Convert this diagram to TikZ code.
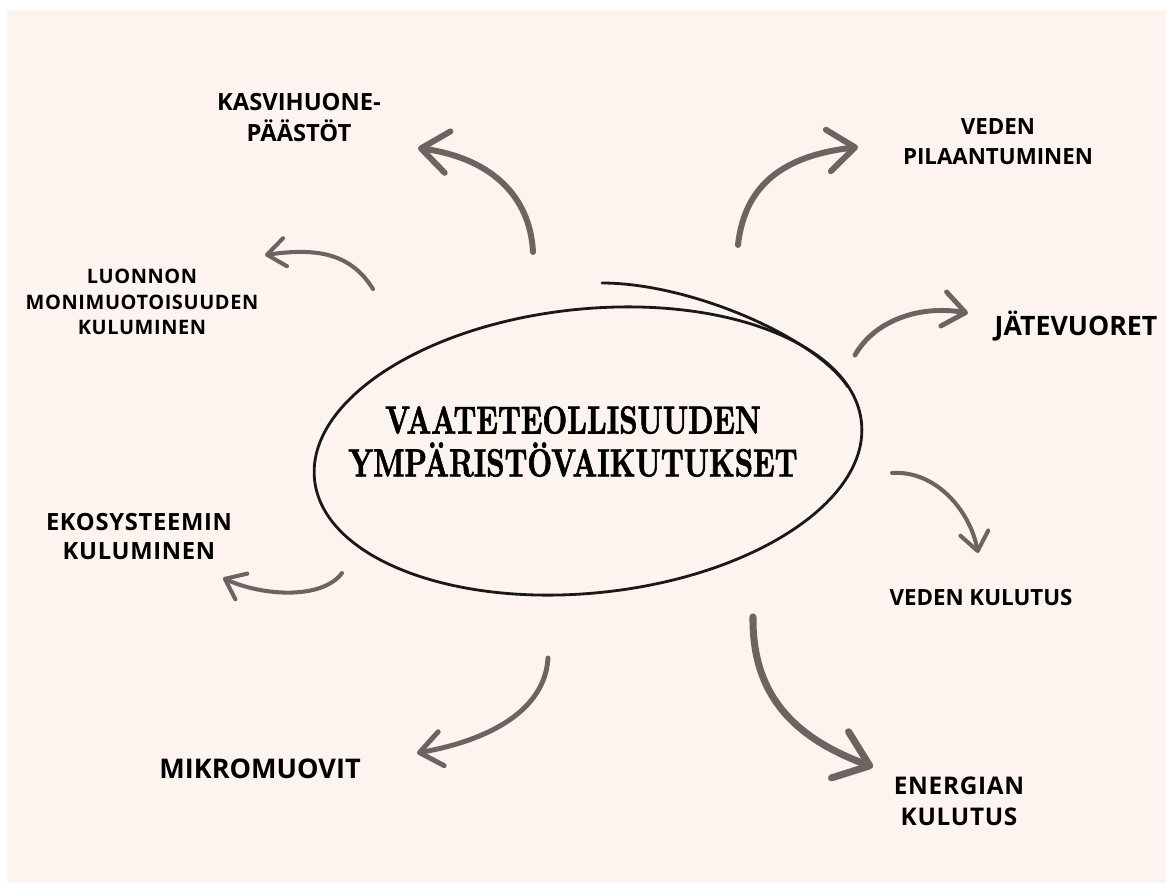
\documentclass[tikz,border=0pt]{standalone}
\usepackage{fontspec}
\usetikzlibrary{arrows.meta,shapes.geometric}
\newfontfamily\labfont{Open Sans}
\newfontfamily\spacedfont[LetterSpace=3]{Open Sans}
\newfontfamily\titlefont{lmroman10-bold.otf}[FakeBold=1.5, FakeStretch=0.73]
\definecolor{bgpink}{HTML}{FDF4F0}
\definecolor{arrowgrey}{HTML}{6E6361}

\begin{document}
\begin{tikzpicture}[x=0.02cm, y=-0.02cm,
  lab/.style 2 args={inner sep=0pt, align=center, font=\labfont\bfseries\fontsize{#1}{#2}\selectfont},
  spaced/.style 2 args={inner sep=0pt, align=center, font=\spacedfont\bfseries\fontsize{#1}{#2}\selectfont},
  flow/.style={draw=arrowgrey, line width=#1, line cap=round,
    -{Straight Barb[round, length=0pt 4.5, width=0pt 7]}}]

  \useasboundingbox (0,0) rectangle (1166,883);
  \fill[bgpink] (7,10) rectangle (1166,883);

  % centre
  \node[ellipse, draw=black!90, line width=1.6pt, minimum width=11cm, minimum height=5.68cm, rotate=6] (core) at (588,451) {};
  \draw[black!90, line width=1.6pt, line cap=round] (602,283) .. controls (690,283) and (815,337) .. (848,387);
  \node[inner sep=0pt, align=center, font=\titlefont\fontsize{22.3}{24.4}\selectfont] (title) at (573,441.5)
    {VAATETEOLLISUUDEN\\YMPÄRISTÖVAIKUTUKSET};

  % labels
  \node[lab={13.5}{18.1}] (kasvi) at (299,117.5) {KASVIHUONE-\\PÄÄSTÖT};
  \node[lab={12.7}{17}] (pilaant) at (998,141.5) {VEDEN\\PILAANTUMINEN};
  \node[lab={15.2}{19}, anchor=base] (jate) at (1076,335) {JÄTEVUORET};
  \node[spaced={11.35}{14.5}] (luonto) at (142,302) {LUONNON\\MONIMUOTOISUUDEN\\KULUMINEN};
  \node[spaced={13.5}{17}] (ekosys) at (139,536.5) {EKOSYSTEEMIN\\KULUMINEN};
  \node[lab={15.4}{20}, anchor=base] (mikro) at (260,778) {MIKROMUOVIT};
  \node[lab={12.7}{15}, anchor=base] (vesi) at (981,605) {VEDEN KULUTUS};
  \node[spaced={13.85}{17.6}] (energia) at (959,801.5) {ENERGIAN\\KULUTUS};

  % arrows
  \coordinate (kasvi-s) at (533,252);
  \coordinate (kasvi-e) at (418,148);
  \coordinate (pilaant-s) at (738,245);
  \coordinate (pilaant-e) at (858,147);
  \coordinate (jate-s) at (855,355);
  \coordinate (jate-e) at (968,313);
  \coordinate (luonto-s) at (373,289);
  \coordinate (luonto-e) at (265,255);
  \coordinate (ekosys-s) at (342,573);
  \coordinate (ekosys-e) at (223,578);
  \coordinate (mikro-s) at (548,658);
  \coordinate (mikro-e) at (417,753);
  \coordinate (vesi-s) at (892,473);
  \coordinate (vesi-e) at (978,553);
  \coordinate (energia-s) at (753,617);
  \coordinate (energia-e) at (873,767);

  \draw[flow=3.4pt] (kasvi-s) .. controls (530,195) and (490,158) .. (kasvi-e);
  \draw[flow=3.4pt] (pilaant-s) .. controls (745,180) and (790,155) .. (pilaant-e);
  \draw[flow=2.8pt] (jate-s) .. controls (875,320) and (920,305) .. (jate-e);
  \draw[flow=2.3pt] (luonto-s) .. controls (350,252) and (315,248) .. (luonto-e);
  \draw[flow=2.3pt] (ekosys-s) .. controls (322,600) and (262,596) .. (ekosys-e);
  \draw[flow=2.8pt] (mikro-s) .. controls (545,710) and (490,740) .. (mikro-e);
  \draw[flow=2.3pt] (vesi-s) .. controls (935,470) and (970,510) .. (vesi-e);
  \draw[flow=4pt] (energia-s) .. controls (752,700) and (800,740) .. (energia-e);

\end{tikzpicture}
\end{document}
